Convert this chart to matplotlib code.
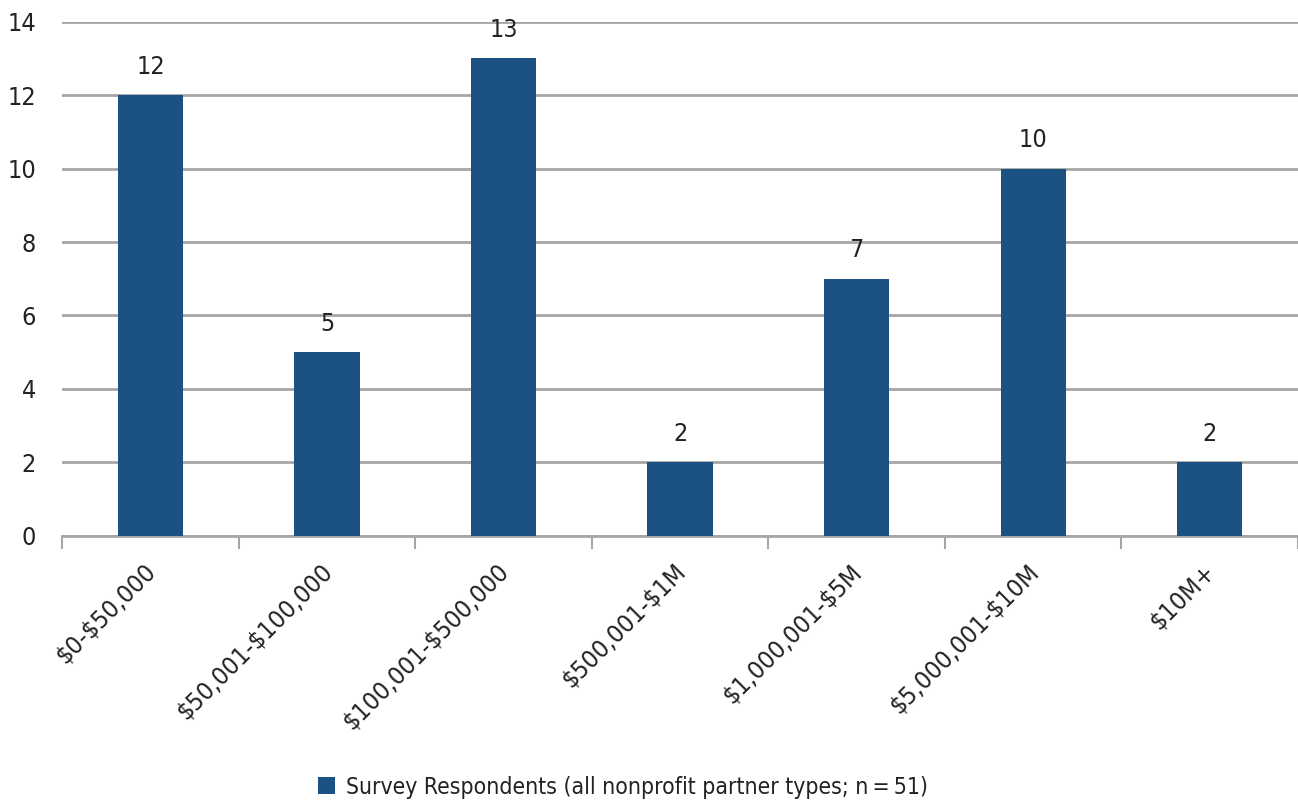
import matplotlib.pyplot as plt
from matplotlib.patches import Patch

# budget ranges and respondent counts
categories = ["$0-$50,000", "$50,001-$100,000", "$100,001-$500,000",
              "$500,001-$1M", "$1,000,001-$5M", "$5,000,001-$10M", "$10M+"]
respondents = [12, 5, 13, 2, 7, 10, 2]
y_ticks = [0, 2, 4, 6, 8, 10, 12, 14]

bar_color = "#1b5282"
grid_color = "#a6a6a6"
text_color = "#222222"

plt.rcParams["font.family"] = ["Liberation Sans Narrow", "DejaVu Sans"]
plt.rcParams["font.stretch"] = "condensed"
plt.rcParams["text.parse_math"] = False

fig = plt.figure(figsize=(12.98, 8.01), dpi=100)
ax = fig.add_axes([0.048, 0.331, 0.952, 0.642])

x = list(range(len(categories)))
ax.bar(x, respondents, width=0.37, color=bar_color, zorder=3)

for xi, v in zip(x, respondents):
    ax.text(xi, v + 0.45, str(v), ha="center", va="bottom",
            fontsize=18, color=text_color)

ax.set_xlim(-0.5, len(categories) - 0.5)
ax.set_ylim(0, 14)
ax.set_yticks(y_ticks)
ax.set_yticklabels([str(t) for t in y_ticks], fontsize=18, color=text_color)
ax.tick_params(axis="y", length=0, pad=19)

ax.yaxis.grid(True, color=grid_color, linewidth=2)
ax.set_axisbelow(True)

# category boundaries as tick marks, labels at the centers
ax.set_xticks([i - 0.5 for i in range(len(categories) + 1)], minor=False)
ax.set_xticklabels([""] * (len(categories) + 1))
ax.tick_params(axis="x", length=9, width=1.5, color=grid_color, direction="out")
ax.set_xticks([i - 0.04 for i in x], minor=True)
ax.set_xticklabels(categories, minor=True, rotation=45, ha="right",
                   rotation_mode="anchor", fontsize=18, color=text_color)
ax.tick_params(axis="x", which="minor", length=0, pad=17)

for s in ["top", "right", "left"]:
    ax.spines[s].set_visible(False)
ax.spines["bottom"].set_color(grid_color)
ax.spines["bottom"].set_linewidth(2)

handle = Patch(facecolor=bar_color, edgecolor="none")
fig.legend([handle], ["Survey Respondents (all nonprofit partner types; n\u2009=\u200951)"],
           loc="center", bbox_to_anchor=(0.48, 0.017), frameon=False,
           fontsize=16.5, handlelength=0.75, handleheight=0.75, handletextpad=0.5,
           labelcolor=text_color)

fig.savefig("out.png", dpi=100)
